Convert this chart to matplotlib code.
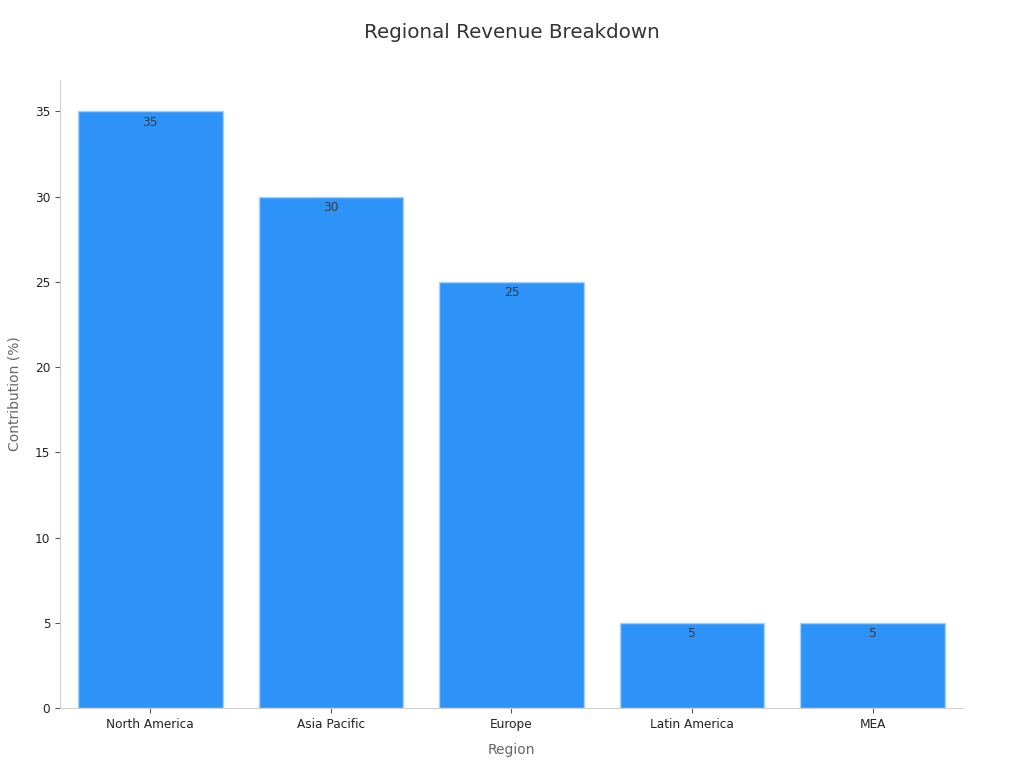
import matplotlib
matplotlib.use("Agg")
import matplotlib.pyplot as plt

regions = ["North America", "Asia Pacific", "Europe", "Latin America", "MEA"]
contribution = [35, 30, 25, 5, 5]

fig = plt.figure(figsize=(10.24, 7.68), dpi=100)
ax = fig.add_axes([0.0586, 0.078, 0.8818, 0.818])

bars = ax.bar(regions, contribution, width=0.8, color="#2E93F8",
              edgecolor="#A9D2FB", linewidth=1)
for i, value in enumerate(contribution):
    ax.text(i, value - 0.25, str(value), ha="center", va="top",
            fontsize=8.8, color="#3a3a3a")

ax.set_xlim(-0.5, 4.5)
ax.set_ylim(0, 36.85)
ax.set_yticks([0, 5, 10, 15, 20, 25, 30, 35])

for side in ["top", "right"]:
    ax.spines[side].set_visible(False)
for side in ["left", "bottom"]:
    ax.spines[side].set_color("#d0d0d0")
ax.tick_params(axis="both", colors="#555555", labelsize=8.7, labelcolor="#222222")

ax.set_xlabel("Region", fontsize=10, color="#666666", labelpad=9)
ax.set_ylabel("Contribution (%)", fontsize=10, color="#666666", labelpad=10)
fig.suptitle("Regional Revenue Breakdown", fontsize=14.3, color="#333333", y=0.97)

fig.savefig("out.png", dpi=100)
plt.close()
